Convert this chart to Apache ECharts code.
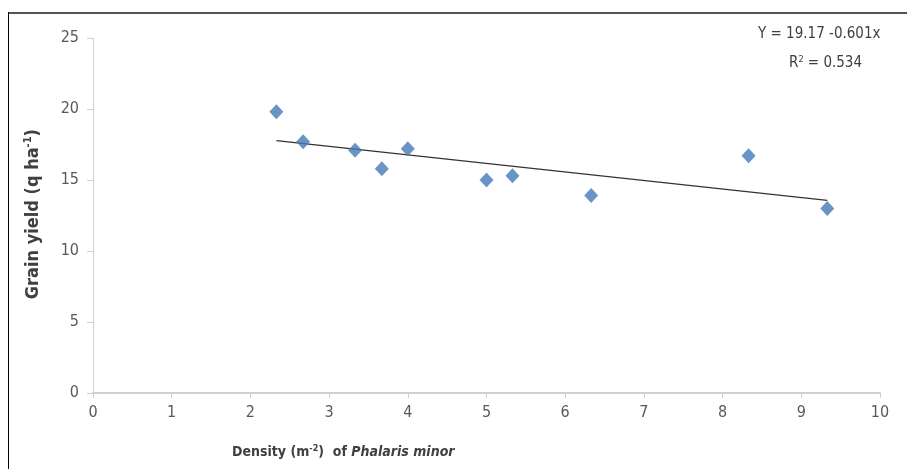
<!DOCTYPE html>
<html><head><meta charset="utf-8">
<script src="https://cdn.jsdelivr.net/npm/echarts@6/dist/echarts.min.js"></script>
<style>html,body{margin:0;padding:0;background:#fff}#c{width:907px;height:469px}</style>
</head><body><div id="c"></div>
<script>
const densityX = [2.33, 2.67, 3.33, 3.67, 4.0, 5.0, 5.33, 6.33, 8.33, 9.33];
const grainYield = [19.8, 17.7, 17.1, 15.8, 17.2, 15.0, 15.3, 13.9, 16.7, 13.0];
const trendX = [2.33, 9.33];
const trendY = [17.77, 13.56];
const xTicks = [0, 1, 2, 3, 4, 5, 6, 7, 8, 9, 10];
const yTicks = [0, 5, 10, 15, 20, 25];
const FONT = '"Liberation Sans Narrow","DejaVu Sans Condensed","Open Sans",sans-serif';

const chart = echarts.init(document.getElementById('c'), null, {renderer: 'canvas'});
chart.setOption({
  animation: false,
  backgroundColor: '#fff',
  grid: {left: 93, right: 27, top: 38, bottom: 76, containLabel: false},
  xAxis: {
    type: 'value', min: xTicks[0], max: xTicks[xTicks.length - 1], interval: 1,
    axisLine: {show: true, lineStyle: {color: '#d0d0d0', width: 2}},
    axisTick: {show: true, inside: false, length: 5, lineStyle: {color: '#d0d0d0'}},
    splitLine: {show: false},
    axisLabel: {color: '#595959', fontSize: 16, fontFamily: FONT, margin: 12}
  },
  yAxis: {
    type: 'value', min: yTicks[0], max: yTicks[yTicks.length - 1], interval: 5,
    axisLine: {show: true, lineStyle: {color: '#d0d0d0', width: 1}},
    axisTick: {show: true, inside: false, length: 6, lineStyle: {color: '#d0d0d0'}},
    splitLine: {show: false},
    axisLabel: {color: '#595959', fontSize: 16, fontFamily: FONT, margin: 14}
  },
  series: [
    {
      type: 'line', data: trendX.map((x, i) => [x, trendY[i]]),
      showSymbol: false, symbol: 'none',
      lineStyle: {color: '#333', width: 1.2}, z: 2, silent: true
    },
    {
      type: 'scatter', data: densityX.map((x, i) => [x, grainYield[i]]),
      symbol: 'diamond', symbolSize: [14, 15],
      itemStyle: {color: '#4579b8'}, z: 3
    }
  ],
  graphic: [
    {type: 'rect', shape: {x: 8, y: 12, width: 905, height: 2}, style: {fill: '#555'}, z: 10},
    {type: 'rect', shape: {x: 8, y: 12, width: 1, height: 460}, style: {fill: '#000'}, z: 10},
    {type: 'text', left: 23, top: 129, rotation: Math.PI / 2, origin: [0, 0],
      style: {
        text: '{b|Grain yield (q ha}{s|-1}{b|)}',
        rich: {
          b: {fontSize: 18, fontWeight: 'bold', fill: '#404040', fontFamily: FONT},
          s: {fontSize: 11, fontWeight: 'bold', fill: '#404040', fontFamily: FONT, padding: [0, 0, 9, 0]}
        }
      }
    },
    {type: 'text', left: 232, top: 444,
      style: {
        text: '{b|Density (m}{s|-2}{b|)  of }{i|Phalaris minor}',
        rich: {
          b: {fontSize: 14, fontWeight: 'bold', fill: '#404040', fontFamily: FONT},
          s: {fontSize: 9, fontWeight: 'bold', fill: '#404040', fontFamily: FONT, padding: [0, 0, 8, 0]},
          i: {fontSize: 14, fontWeight: 'bold', fontStyle: 'italic', fill: '#404040', fontFamily: FONT}
        }
      }
    },
    {type: 'text', left: 758, top: 27,
      style: {text: 'Y = 19.17 -0.601x', fontSize: 15, fill: '#404040', fontFamily: FONT}},
    {type: 'text', left: 789, top: 55,
      style: {
        text: '{n|R}{s|2}{n| = 0.534}',
        rich: {
          n: {fontSize: 15, fill: '#404040', fontFamily: FONT},
          s: {fontSize: 9, fill: '#404040', fontFamily: FONT, padding: [0, 0, 8, 0]}
        }
      }
    }
  ]
});
</script></body></html>
